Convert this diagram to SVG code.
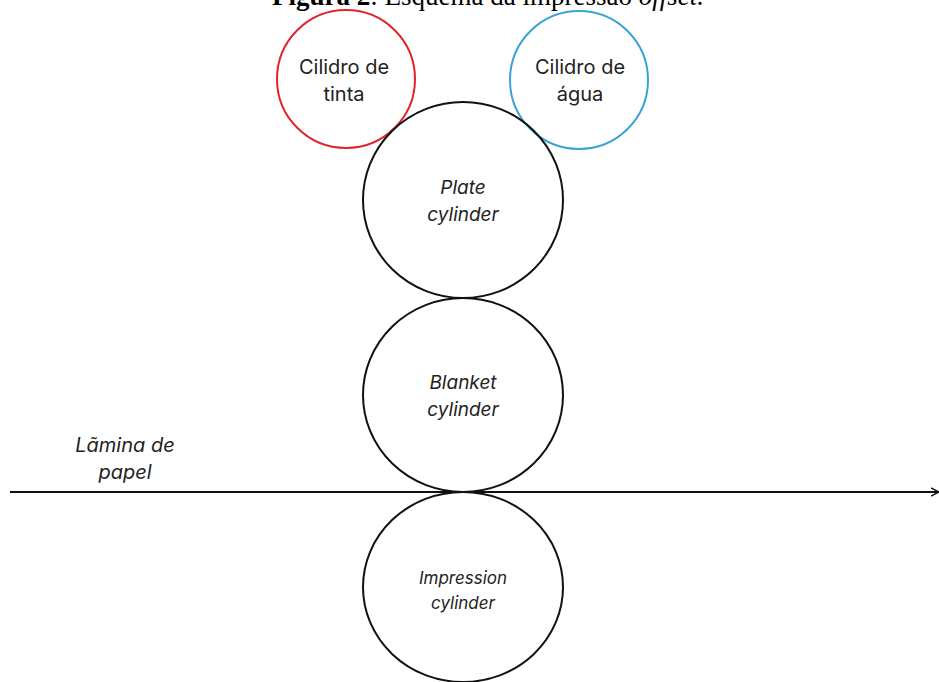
<svg xmlns="http://www.w3.org/2000/svg" width="939" height="682" viewBox="0 0 939 682">
<defs>
<style>
.t{font-family:"Inter","Noto Sans","Liberation Sans",sans-serif;fill:#222;text-anchor:middle}
.i{font-style:italic}
.c{fill:none;stroke:#111;stroke-width:2}
</style>
<marker id="ah" markerWidth="10" markerHeight="10" refX="8" refY="5" orient="auto" markerUnits="userSpaceOnUse">
<path d="M0,1 L8,5 L0,9" fill="none" stroke="#111" stroke-width="1.5"/>
</marker>
</defs>
<rect width="939" height="682" fill="#fff"/>
<text x="488" y="5" font-family="Liberation Serif,serif" font-size="27" text-anchor="middle" fill="#000"><tspan font-weight="bold">Figura 2</tspan>: Esquema da impressão <tspan font-style="italic">offset.</tspan></text>
<g id="connectors">
<line x1="10" y1="492" x2="939" y2="492" stroke="#111" stroke-width="2" marker-end="url(#ah)"/>
</g>
<g id="tinta">
<circle cx="346" cy="79" r="69" fill="none" stroke="#e3232c" stroke-width="2"/>
<text class="t" x="344" y="74" font-size="20">Cilidro de</text>
<text class="t" x="344" y="101" font-size="20">tinta</text>
</g>
<g id="agua">
<circle cx="579" cy="80" r="69" fill="none" stroke="#3aa3d6" stroke-width="2"/>
<text class="t" x="580" y="74" font-size="20">Cilidro de</text>
<text class="t" x="580" y="101" font-size="20">água</text>
</g>
<g id="plate">
<ellipse class="c" cx="463" cy="200" rx="100" ry="98"/>
<text class="t i" x="463" y="194" font-size="19">Plate</text>
<text class="t i" x="463" y="221" font-size="19">cylinder</text>
</g>
<g id="blanket">
<ellipse class="c" cx="463" cy="395" rx="100" ry="97"/>
<text class="t i" x="463" y="389" font-size="19">Blanket</text>
<text class="t i" x="463" y="416" font-size="19">cylinder</text>
</g>
<g id="impression">
<ellipse class="c" cx="463" cy="587" rx="100" ry="95"/>
<text class="t i" x="463" y="584" font-size="17">Impression</text>
<text class="t i" x="463" y="609" font-size="17">cylinder</text>
</g>
<g id="papel">
<text class="t i" x="125" y="452" font-size="20">Lãmina de</text>
<text class="t i" x="125" y="479" font-size="20">papel</text>
</g>
</svg>
